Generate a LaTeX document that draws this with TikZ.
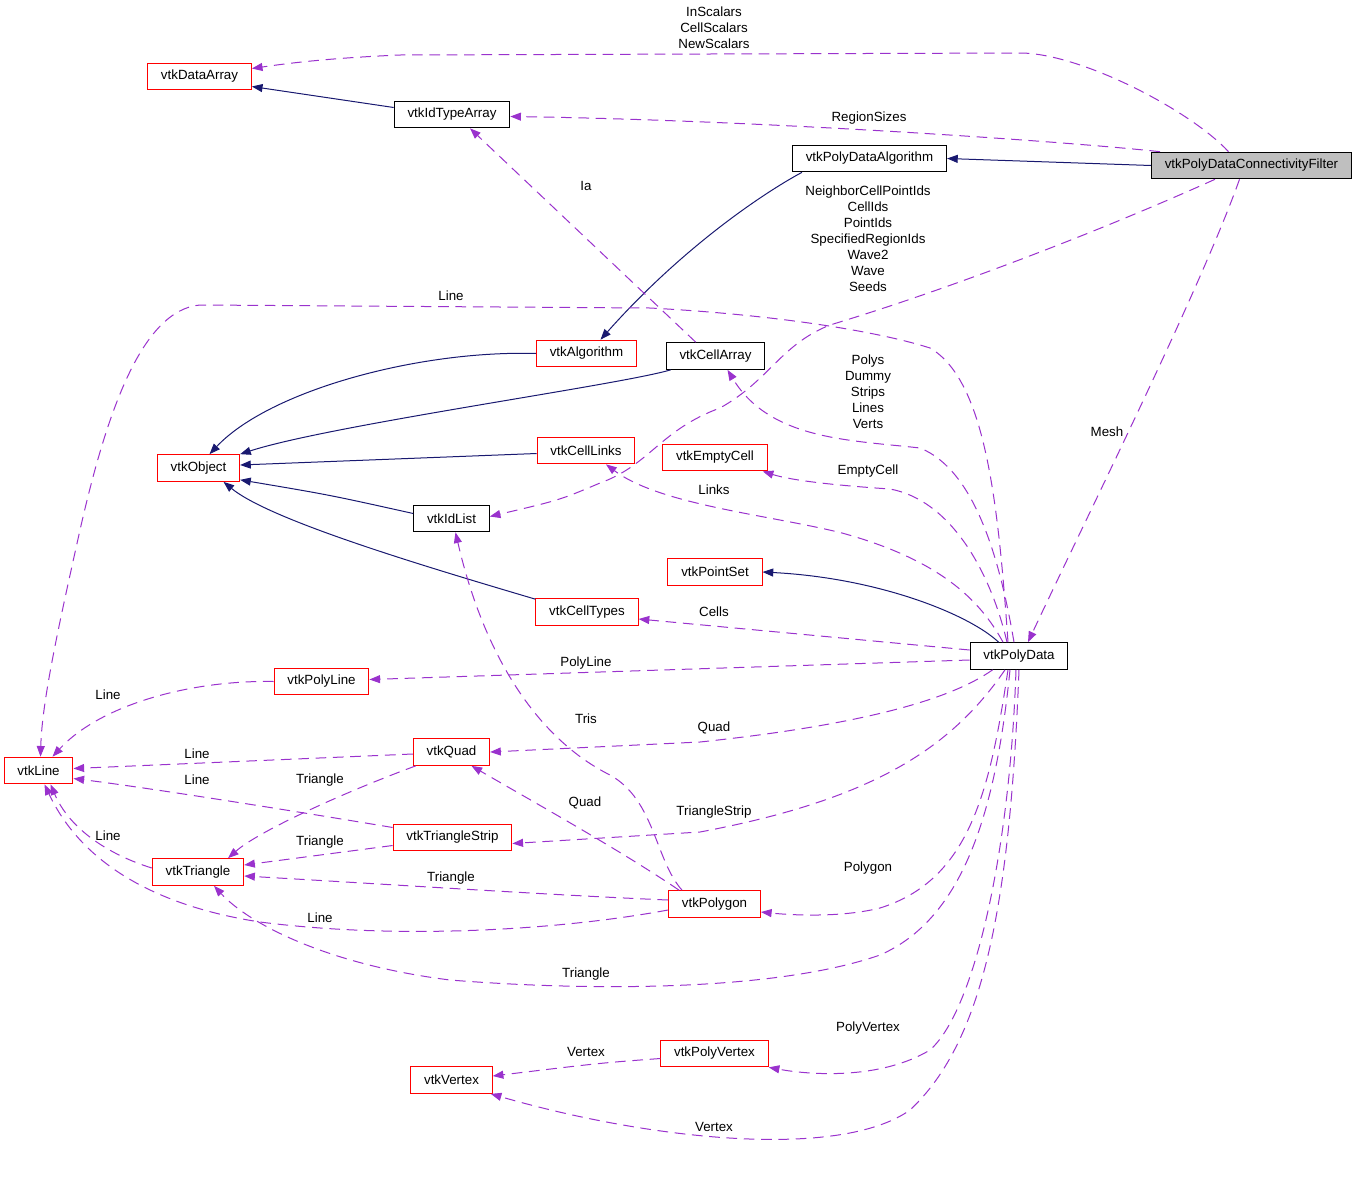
\documentclass[tikz,border=0pt]{standalone}
\usepackage{fontspec}
\setmainfont{Liberation Sans}
\usepackage{tikz}
\usetikzlibrary{arrows.meta,calc}
\definecolor{edgenavy}{HTML}{191970}
\definecolor{edgeviolet}{HTML}{9A32CD}
\definecolor{boxred}{HTML}{FF0000}
\definecolor{boxgray}{HTML}{BFBFBF}

\begin{document}
\begin{tikzpicture}[
  x=0.75pt,y=-0.75pt,
  font=\fontsize{10}{12}\selectfont,
  cls/.style={draw=black,line width=0.75pt,minimum height=20pt,inner xsep=10pt,inner ysep=0pt},
  clsred/.style={cls,draw=boxred},
  inh/.style={-{Triangle[length=8pt,width=6pt]},line width=0.75pt,draw=edgenavy},
  memb/.style={-{Triangle[length=8pt,width=6pt]},line width=0.75pt,draw=edgeviolet,dash pattern=on 8pt off 5pt},
  lbl/.style={align=center,inner sep=0pt}
]
\useasboundingbox (0,0) rectangle (1357,1196);

\node[clsred] (da) at (199.5,76.5) {vtkDataArray};
\node[cls] (ita) at (452,114.5) {vtkIdTypeArray};
\node[cls] (pda) at (869.5,158.5) {vtkPolyDataAlgorithm};
\node[cls,fill=boxgray] (filt) at (1251.5,165.5) {vtkPolyDataConnectivityFilter};
\node[clsred] (alg) at (586.5,353.5) {vtkAlgorithm};
\node[cls] (ca) at (715.5,356) {vtkCellArray};
\node[clsred] (obj) at (198.5,468) {vtkObject};
\node[clsred] (cl) at (586,450.5) {vtkCellLinks};
\node[clsred] (ec) at (715,457.5) {vtkEmptyCell};
\node[cls] (il) at (451.5,518.5) {vtkIdList};
\node[clsred] (ps) at (715,572) {vtkPointSet};
\node[clsred] (ct) at (587,612) {vtkCellTypes};
\node[cls] (pd) at (1019,656) {vtkPolyData};
\node[clsred] (pl) at (321.5,681.5) {vtkPolyLine};
\node[clsred] (line) at (38.5,770.5) {vtkLine};
\node[clsred] (quad) at (451.5,752) {vtkQuad};
\node[clsred] (ts) at (452.5,837.5) {vtkTriangleStrip};
\node[clsred] (tri) at (198,872) {vtkTriangle};
\node[clsred] (pg) at (714.5,904) {vtkPolygon};
\node[clsred] (pv) at (714.5,1053.5) {vtkPolyVertex};
\node[clsred] (vx) at (451.5,1080) {vtkVertex};

\draw[inh] (filt.west) -- (pda.east);
\draw[inh] ($(pda.south west)+(10,0)$) .. controls (760,195) and (680,250) .. ($(alg.north)+(14,0)$);
\draw[inh] ($(ita.west)+(0,-7)$) -- ($(da.east)+(0,10)$);
\draw[inh] (alg.west) .. controls (420,350) and (270,390) .. ($(obj.north)+(11,0)$);
\draw[inh] ($(ca.south west)+(5,0)$) .. controls (620,385) and (330,425) .. (obj.north east);
\draw[inh] ($(cl.west)+(0,3)$) -- ($(obj.east)+(0,-3)$);
\draw[inh] ($(il.west)+(0,-5)$) .. controls (330,495) .. ($(obj.south east)+(0,-2)$);
\draw[inh] ($(ct.north west)+(0,1)$) .. controls (420,565) and (270,520) .. ($(obj.south)+(25,0)$);
\draw[inh] ($(pd.north west)+(29,0)$) .. controls (970,615) and (880,578) .. (ps.east);

\draw[memb] ($(filt.north)+(-23,0)$) .. controls (1190,110) and (1080,53) .. (1020,53) -- (400,55) .. controls (330,58) and (290,63) .. ($(da.east)+(0,-8)$);
\draw[memb] ($(filt.north west)+(9,0)$) .. controls (1050,140) and (750,120) .. ($(ita.east)+(0,2)$);
\draw[memb] ($(filt.south west)+(64,0)$) .. controls (1080,240) and (930,295) .. (830,325) .. controls (780,345) and (770,380) .. (720,408) .. controls (660,430) and (650,465) .. (600,483) .. controls (560,500) .. ($(il.east)+(0,-2)$);
\draw[memb] ($(filt.south)+(-12,0)$) .. controls (1200,290) and (1090,510) .. ($(pd.north)+(9,0)$);
\draw[memb] ($(ca.north west)+(30,0)$) -- ($(ita.south)+(18,0)$);
\draw[memb] ($(pd.north)+(-11,0)$) .. controls (998,500) and (985,380) .. (930,348) .. controls (880,332) and (780,315) .. (650,308) -- (200,305) .. controls (140,310) and (105,420) .. (80,530) .. controls (60,620) and (42,700) .. ($(line.north)+(2,0)$);
\draw[memb] ($(pd.north)+(-5,0)$) .. controls (1000,560) and (975,470) .. (920,448) .. controls (850,440) and (770,440) .. ($(ca.south)+(12,0)$);
\draw[memb] ($(pd.north)+(-12,0)$) .. controls (990,570) and (950,500) .. (890,489) .. controls (830,485) and (790,480) .. ($(ec.south east)+(-5,0)$);
\draw[memb] ($(pd.north)+(-16,0)$) .. controls (980,600) and (940,560) .. (842,533) .. controls (770,515) and (660,505) .. ($(cl.south)+(20,0)$);
\draw[memb] ($(pd.west)+(0,-6)$) -- ($(ct.east)+(0,7)$);
\draw[memb] ($(pd.west)+(0,4)$) -- ($(pl.east)+(0,-2)$);
\draw[memb] ($(pd.south west)+(23,0)$) .. controls (950,700) and (860,725) .. (700,742) -- (quad.east);
\draw[memb] ($(pd.south)+(-14,0)$) .. controls (950,750) and (870,800) .. (700,832) -- ($(ts.east)+(0,6)$);
\draw[memb] ($(pd.south)+(-11,0)$) .. controls (990,790) and (970,880) .. (880,908) .. controls (840,918) and (790,915) .. ($(pg.east)+(0,8)$);
\draw[memb] ($(pd.south)+(-9,0)$) .. controls (995,820) and (960,920) .. (880,955) .. controls (780,990) and (600,992) .. (450,980) .. controls (330,965) and (250,925) .. ($(tri.south)+(16,0)$);
\draw[memb] ($(pd.south)+(-3,0)$) .. controls (1010,850) and (975,1010) .. (930,1050) .. controls (880,1080) and (810,1075) .. (pv.south east);
\draw[memb] (pd.south) .. controls (1010,900) and (985,1040) .. (910,1110) .. controls (840,1160) and (650,1140) .. ($(vx.south east)+(-2,0)$);
\draw[memb] ($(pv.west)+(0,5)$) .. controls (600,1063) .. ($(vx.east)+(0,-4)$);
\draw[memb] (pl.west) .. controls (190,680) and (100,705) .. ($(line.north)+(14,0)$);
\draw[memb] ($(quad.west)+(0,2)$) -- ($(line.east)+(0,-2)$);
\draw[memb] ($(ts.west)+(0,-10)$) .. controls (300,812) and (150,788) .. ($(line.east)+(0,8)$);
\draw[memb] ($(quad.south west)+(3,0)$) .. controls (350,790) and (260,830) .. ($(tri.north)+(30,0)$);
\draw[memb] ($(ts.west)+(0,8)$) -- ($(tri.east)+(0,-7)$);
\draw[memb] ($(pg.west)+(0,-4)$) .. controls (550,895) and (400,885) .. ($(tri.east)+(0,4)$);
\draw[memb] ($(tri.west)+(0,-4)$) .. controls (110,855) and (70,830) .. ($(line.south)+(12,0)$);
\draw[memb] ($(pg.west)+(0,6)$) .. controls (560,930) and (400,940) .. (260,922) .. controls (150,905) and (80,860) .. ($(line.south)+(6,0)$);
\draw[memb] ($(pg.north west)+(11,0)$) .. controls (620,850) and (530,800) .. ($(quad.south)+(20,0)$);
\draw[memb] ($(pg.north west)+(14,0)$) .. controls (655,860) and (655,800) .. (610,775) .. controls (540,740) and (485,660) .. ($(il.south)+(4,0)$);

\node[lbl] (lscal) at (714,28) {InScalars\\CellScalars\\NewScalars};
\node[lbl] (lreg) at (869,118) {RegionSizes};
\node[lbl] (lia) at (586,186) {Ia};
\node[lbl] (lids) at (868,239) {NeighborCellPointIds\\CellIds\\PointIds\\SpecifiedRegionIds\\Wave2\\Wave\\Seeds};
\node[lbl] (lline) at (451,296) {Line};
\node[lbl] (lpolys) at (868,392) {Polys\\Dummy\\Strips\\Lines\\Verts};
\node[lbl] (lmesh) at (1107,432) {Mesh};
\node[lbl] (lempty) at (868,471) {EmptyCell};
\node[lbl] (llinks) at (714,490) {Links};
\node[lbl] (lcells) at (714,612) {Cells};
\node[lbl] (lpline) at (586,663) {PolyLine};
\node[lbl] (lline2) at (108,695) {Line};
\node[lbl] (ltris) at (586,719) {Tris};
\node[lbl] (lquad) at (714,728) {Quad};
\node[lbl] (lline3) at (197,754) {Line};
\node[lbl] (lline4) at (197,780) {Line};
\node[lbl] (ltri1) at (320,780) {Triangle};
\node[lbl] (lquad2) at (585,803) {Quad};
\node[lbl] (lstrip) at (714,812) {TriangleStrip};
\node[lbl] (lline5) at (108,836) {Line};
\node[lbl] (ltri2) at (320,842) {Triangle};
\node[lbl] (lpgon) at (868,868) {Polygon};
\node[lbl] (ltri3) at (451,878) {Triangle};
\node[lbl] (lline6) at (320,918) {Line};
\node[lbl] (ltri4) at (586,974) {Triangle};
\node[lbl] (lpvert) at (868,1028) {PolyVertex};
\node[lbl] (lvert1) at (586,1052) {Vertex};
\node[lbl] (lvert2) at (714,1127) {Vertex};
\end{tikzpicture}
\end{document}
